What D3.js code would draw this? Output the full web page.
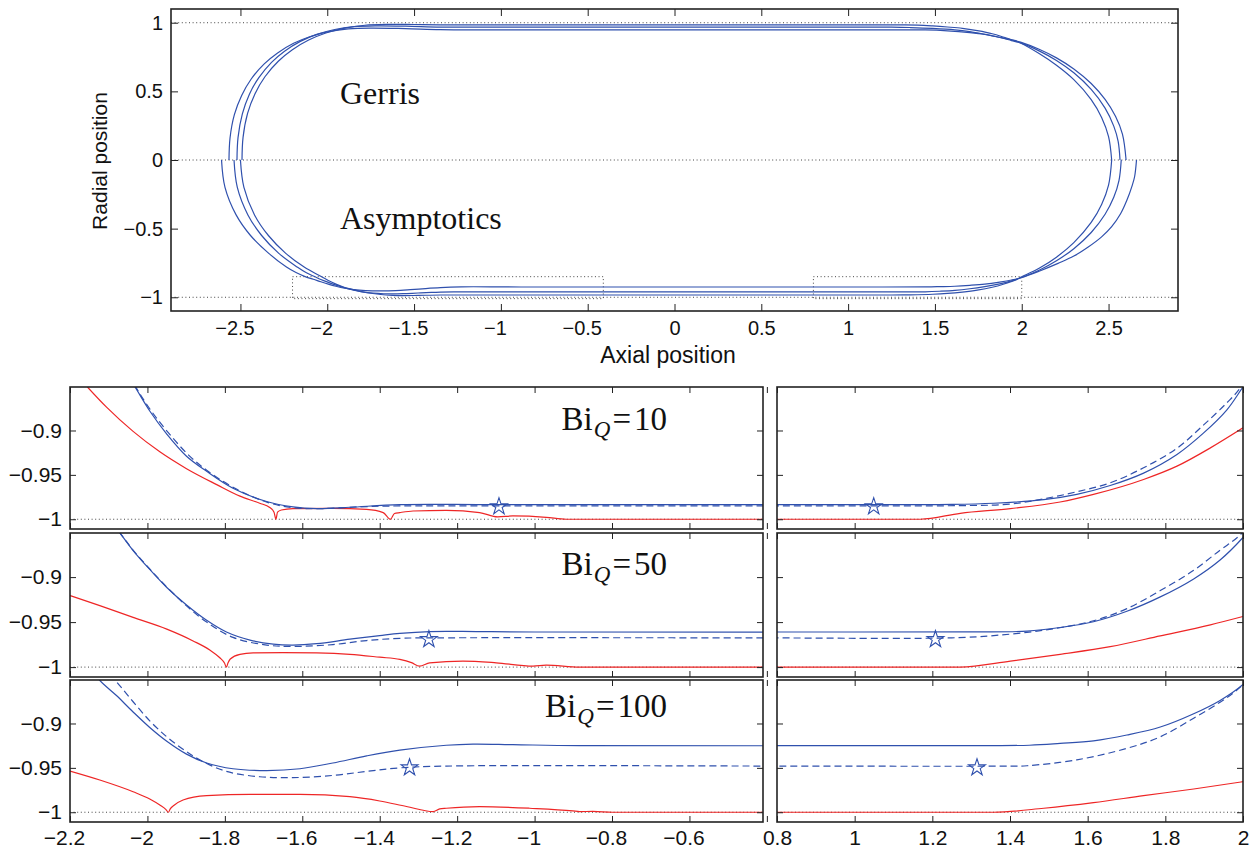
<!DOCTYPE html>
<html><head><meta charset="utf-8">
<script src="https://cdn.jsdelivr.net/npm/d3@7"></script>
<style>body{margin:0;background:#fff}svg{display:block}</style>
</head><body><svg id="c" width="1255" height="855"></svg>
<script>
// ---------------- data ----------------
const topXTicks = [-2.5,-2,-1.5,-1,-0.5,0,0.5,1,1.5,2,2.5];
const topXLabels = ["−2.5","−2","−1.5","−1","−0.5","0","0.5","1","1.5","2","2.5"];
const topYTicks = [-1,-0.5,0,0.5,1];
const topYLabels = ["−1","−0.5","0","0.5","1"];
const zoomYTicks = [-1,-0.95,-0.9];
const zoomYLabels = ["−1","−0.95","−0.9"];
const leftXTicks = [-2.2,-2,-1.8,-1.6,-1.4,-1.2,-1,-0.8,-0.6,-0.4];
const leftXLabels = ["−2.2","−2","−1.8","−1.6","−1.4","−1.2","−1","−0.8","−0.6",""];
const rightXTicks = [0.8,1,1.2,1.4,1.6,1.8,2];
const rightXLabels = ["0.8","1","1.2","1.4","1.6","1.8","2"];
const biValues = ["10","50","100"];
const refLines = [-1,0,1];
const zoomBoxesX = [[-2.2,-0.41],[0.8,2]];
const zoomBoxY = [-1.01,-0.85];

// Gerris interface, upper half of the overview
const gerrisTop10 = [[-2.491,0],[-2.485,0.1645],[-2.459,0.3393],[-2.416,0.4831],[-2.359,0.6066],[-2.282,0.7197],[-2.203,0.802],[-2.107,0.8739],[-2.008,0.9253],[-1.899,0.9613],[-1.783,0.9818],[-1.650,0.988],[-1.500,0.987],[-1.350,0.985],[-1.1,0.985],[0,0.985],[1.0,0.985],[1.3,0.9845],[1.40,0.983],[1.487,0.977],[1.572,0.969],[1.658,0.959],[1.744,0.942],[1.830,0.920],[1.898,0.894],[1.958,0.869],[1.993,0.852],[2.1,0.775],[2.2,0.69],[2.3,0.585],[2.4,0.44],[2.46,0.31],[2.5,0.17],[2.518,0]];
const gerrisTop50 = [[-2.520,0],[-2.514,0.163],[-2.489,0.3355],[-2.449,0.4778],[-2.394,0.600],[-2.321,0.7117],[-2.246,0.793],[-2.155,0.864],[-2.060,0.915],[-1.957,0.9506],[-1.846,0.9709],[-1.720,0.977],[-1.550,0.975],[-1.350,0.968],[-1.1,0.9675],[0,0.9675],[1.25,0.9675],[1.358,0.965],[1.487,0.959],[1.615,0.9485],[1.701,0.935],[1.787,0.915],[1.873,0.8925],[1.941,0.870],[1.993,0.853],[2.1,0.795],[2.2,0.725],[2.3,0.635],[2.4,0.514],[2.48,0.378],[2.53,0.247],[2.555,0.137],[2.566,0]];
const gerrisTop100 = [[-2.566,0],[-2.560,0.16],[-2.535,0.33],[-2.493,0.47],[-2.438,0.59],[-2.363,0.70],[-2.286,0.78],[-2.194,0.85],[-2.097,0.90],[-1.992,0.935],[-1.879,0.955],[-1.750,0.961],[-1.550,0.957],[-1.350,0.950],[-1.1,0.948],[0,0.948],[1.40,0.948],[1.444,0.9476],[1.572,0.941],[1.701,0.928],[1.787,0.915],[1.873,0.894],[1.941,0.876],[1.993,0.859],[2.1,0.807],[2.2,0.744],[2.3,0.663],[2.4,0.557],[2.48,0.441],[2.54,0.318],[2.58,0.188],[2.601,0]];

// asymptotic interface: lower half of the overview, solid lines in the zooms
const asym10 = [[-2.500,0],[-2.480,-0.20],[-2.419,-0.40],[-2.339,-0.55],[-2.239,-0.68],[-2.133,-0.78],[-2.032,-0.851],[-1.994,-0.878],[-1.950,-0.904],[-1.899,-0.929],[-1.847,-0.946],[-1.779,-0.965],[-1.692,-0.980],[-1.624,-0.986],[-1.563,-0.988],[-1.477,-0.9865],[-1.348,-0.9835],[-1.1,-0.9835],[0,-0.9835],[1.0,-0.9835],[1.25,-0.9833],[1.358,-0.982],[1.487,-0.978],[1.572,-0.972],[1.658,-0.962],[1.744,-0.948],[1.830,-0.927],[1.898,-0.903],[1.958,-0.877],[2.0,-0.851],[2.1,-0.789],[2.2,-0.708],[2.3,-0.602],[2.4,-0.455],[2.46,-0.324],[2.5,-0.183],[2.518,0]];
const asym50 = [[-2.537,0],[-2.518,-0.20],[-2.457,-0.40],[-2.378,-0.55],[-2.279,-0.68],[-2.173,-0.78],[-2.120,-0.822],[-2.071,-0.851],[-2.037,-0.8705],[-1.994,-0.8915],[-1.950,-0.9115],[-1.899,-0.931],[-1.847,-0.948],[-1.796,-0.961],[-1.735,-0.970],[-1.675,-0.9745],[-1.624,-0.9755],[-1.563,-0.974],[-1.477,-0.969],[-1.400,-0.965],[-1.348,-0.9625],[-1.271,-0.9605],[-1.15,-0.9605],[-1.0,-0.961],[0,-0.961],[1.0,-0.961],[1.30,-0.9608],[1.444,-0.960],[1.529,-0.956],[1.615,-0.9496],[1.701,-0.938],[1.787,-0.922],[1.873,-0.902],[1.941,-0.881],[2.0,-0.856],[2.1,-0.803],[2.2,-0.734],[2.3,-0.646],[2.4,-0.528],[2.48,-0.395],[2.53,-0.272],[2.56,-0.150],[2.573,0]];
const asym100 = [[-2.609,0],[-2.589,-0.20],[-2.525,-0.40],[-2.442,-0.55],[-2.337,-0.68],[-2.235,-0.78],[-2.180,-0.82],[-2.124,-0.851],[-2.080,-0.8685],[-2.037,-0.8870],[-1.994,-0.9045],[-1.950,-0.9200],[-1.899,-0.9345],[-1.847,-0.9445],[-1.779,-0.9510],[-1.692,-0.9530],[-1.606,-0.9510],[-1.521,-0.9445],[-1.434,-0.9365],[-1.348,-0.9300],[-1.228,-0.9245],[-1.159,-0.9232],[-1.056,-0.9238],[-0.884,-0.925],[0,-0.925],[1.2,-0.925],[1.45,-0.9245],[1.529,-0.9225],[1.615,-0.9196],[1.701,-0.913],[1.787,-0.904],[1.873,-0.889],[1.941,-0.874],[2.0,-0.856],[2.1,-0.81],[2.209,-0.753],[2.3,-0.70],[2.385,-0.632],[2.46,-0.56],[2.518,-0.486],[2.57,-0.39],[2.606,-0.292],[2.635,-0.19],[2.650,-0.122],[2.661,0]];

// dashed lines in the zooms
const dash10 = [[-2.120,-0.785],[-2.066,-0.82],[-2.030,-0.851],[-1.990,-0.878],[-1.945,-0.903],[-1.893,-0.928],[-1.840,-0.947],[-1.770,-0.966],[-1.690,-0.981],[-1.624,-0.987],[-1.550,-0.988],[-1.450,-0.986],[-1.350,-0.985],[-1.1,-0.985],[-0.3,-0.985],[0.7,-0.985],[1.0,-0.985],[1.3,-0.9845],[1.40,-0.983],[1.487,-0.977],[1.572,-0.969],[1.658,-0.959],[1.744,-0.942],[1.830,-0.920],[1.898,-0.894],[1.958,-0.869],[1.993,-0.852],[2.1,-0.775]];
const dash50 = [[-2.190,-0.78],[-2.133,-0.82],[-2.071,-0.851],[-2.037,-0.870],[-1.994,-0.891],[-1.950,-0.911],[-1.899,-0.932],[-1.847,-0.950],[-1.779,-0.967],[-1.692,-0.9755],[-1.624,-0.977],[-1.521,-0.975],[-1.434,-0.9705],[-1.348,-0.968],[-1.25,-0.9675],[-0.3,-0.9675],[0.7,-0.9675],[1.25,-0.9675],[1.358,-0.965],[1.487,-0.959],[1.615,-0.9485],[1.701,-0.935],[1.787,-0.915],[1.873,-0.8925],[1.941,-0.870],[1.993,-0.853],[2.1,-0.795]];
const dash100 = [[-2.230,-0.78],[-2.150,-0.82],[-2.084,-0.851],[-2.037,-0.8755],[-1.994,-0.8970],[-1.950,-0.9150],[-1.908,-0.9290],[-1.865,-0.9410],[-1.796,-0.9540],[-1.710,-0.9600],[-1.624,-0.9610],[-1.521,-0.9585],[-1.434,-0.9540],[-1.348,-0.9500],[-1.228,-0.948],[-0.3,-0.948],[0.7,-0.948],[1.40,-0.948],[1.444,-0.9476],[1.572,-0.941],[1.701,-0.928],[1.787,-0.915],[1.873,-0.894],[1.941,-0.876],[1.993,-0.859],[2.1,-0.807]];

// red curves in the zooms
const red10L = [[-2.155,-0.851],[-2.105,-0.874],[-2.037,-0.901],[-1.968,-0.924],[-1.899,-0.943],[-1.821,-0.961],[-1.761,-0.974],[-1.710,-0.982],[-1.684,-0.9868],[-1.673,-0.9920],[-1.668,-1.0],[-1.664,-0.9920],[-1.654,-0.9896],[-1.624,-0.988],[-1.521,-0.9877],[-1.434,-0.9888],[-1.391,-0.9925],[-1.372,-1.0],[-1.362,-0.9935],[-1.348,-0.9925],[-1.314,-0.9907],[-1.228,-0.990],[-1.142,-0.9925],[-1.095,-0.9974],[-1.056,-0.9963],[-0.970,-0.9978],[-0.918,-1.0],[-0.41,-1.0]];
const red10R = [[0.8,-1.0],[1.169,-1.0],[1.272,-0.9933],[1.401,-0.988],[1.529,-0.9806],[1.615,-0.972],[1.744,-0.9552],[1.830,-0.9402],[1.916,-0.9196],[2.0,-0.897]];
const red50L = [[-2.2,-0.9205],[-2.123,-0.9317],[-2.037,-0.9448],[-1.950,-0.9578],[-1.882,-0.9709],[-1.839,-0.981],[-1.813,-0.9896],[-1.801,-0.9955],[-1.796,-1.0],[-1.792,-0.9955],[-1.786,-0.9910],[-1.761,-0.9858],[-1.727,-0.9843],[-1.650,-0.984],[-1.563,-0.9843],[-1.477,-0.9858],[-1.400,-0.9890],[-1.348,-0.9914],[-1.318,-0.9950],[-1.297,-0.9989],[-1.271,-0.9952],[-1.185,-0.9933],[-1.099,-0.9952],[-1.004,-0.9989],[-0.970,-0.9978],[-0.884,-1.0],[-0.41,-1.0]];
const red50R = [[0.8,-1.0],[1.272,-1.0],[1.401,-0.9933],[1.529,-0.9858],[1.658,-0.9773],[1.787,-0.9653],[1.916,-0.953],[2.0,-0.9437]];
const red100L = [[-2.2,-0.9536],[-2.123,-0.9637],[-2.037,-0.9769],[-1.994,-0.985],[-1.968,-0.9918],[-1.952,-0.9970],[-1.946,-1.0],[-1.941,-0.9962],[-1.932,-0.9925],[-1.908,-0.9862],[-1.847,-0.9813],[-1.735,-0.9798],[-1.606,-0.9798],[-1.477,-0.9825],[-1.400,-0.9873],[-1.331,-0.9935],[-1.262,-0.9993],[-1.245,-0.9962],[-1.228,-0.9955],[-1.142,-0.9937],[-1.013,-0.9955],[-0.901,-0.9985],[-0.884,-0.9993],[-0.85,-0.9990],[-0.798,-1.0],[-0.41,-1.0]];
const red100R = [[0.8,-1.0],[1.358,-1.0],[1.487,-0.9955],[1.615,-0.9892],[1.744,-0.9813],[1.873,-0.9738],[2.0,-0.9656]];

// star markers (left panel, right panel)
const stars10 = [[-1.092,-0.984],[1.049,-0.984]];
const stars50 = [[-1.273,-0.9675],[1.208,-0.9675]];
const stars100 = [[-1.323,-0.948],[1.315,-0.948]];

// ---------------- drawing ----------------
const BLUE = "#2f50ad", RED = "#ee2626", INK = "#222";
const SANS = "'Liberation Sans', Arial, sans-serif";
const SERIF = "'Liberation Serif', 'Times New Roman', serif";
const svg = d3.select("#c");
svg.append("rect").attr("width",1255).attr("height",855).attr("fill","#fff");

const sets = [
  {bi: biValues[0], top: gerrisTop10, asym: asym10, dash: dash10, redL: red10L, redR: red10R, stars: stars10},
  {bi: biValues[1], top: gerrisTop50, asym: asym50, dash: dash50, redL: red50L, redR: red50R, stars: stars50},
  {bi: biValues[2], top: gerrisTop100, asym: asym100, dash: dash100, redL: red100L, redR: red100R, stars: stars100}
];

function drawAxes(g, x, y, o) {
  const [y0, y1] = y.range(); // bottom, top
  const [x0, x1] = x.range();
  const bx = d3.axisBottom(x).tickValues(o.xt).tickSizeInner(-o.tl).tickSizeOuter(0).tickPadding(o.xpad)
    .tickFormat((d,i) => o.xl ? o.xl[i] : "");
  const tx = d3.axisTop(x).tickValues(o.xt).tickSizeInner(-o.tl).tickSizeOuter(0).tickFormat(() => "");
  const ly = d3.axisLeft(y).tickValues(o.yt).tickSizeInner(-o.tl).tickSizeOuter(0).tickPadding(o.ypad)
    .tickFormat((d,i) => o.yl ? o.yl[i] : "");
  const ry = d3.axisRight(y).tickValues(o.yt).tickSizeInner(-o.tl).tickSizeOuter(0).tickFormat(() => "");
  const gb = g.append("g").attr("transform", `translate(0,${y0})`).call(bx);
  g.append("g").attr("transform", `translate(0,${y1})`).call(tx);
  g.append("g").attr("transform", `translate(${x0},0)`).call(ly);
  g.append("g").attr("transform", `translate(${x1},0)`).call(ry);
  g.selectAll(".domain").remove();
  g.selectAll(".tick line").attr("stroke", INK).attr("stroke-width", 1);
  g.selectAll(".tick text").attr("fill", "#111").style("font-family", SANS).style("font-size", o.fs + "px");
  gb.selectAll(".tick text").attr("dx", function(){ return this.textContent.startsWith("−") ? -6 : 0; });
  g.append("rect").attr("x", x0).attr("y", y1).attr("width", x1 - x0).attr("height", y0 - y1)
    .attr("fill", "none").attr("stroke", INK).attr("stroke-width", 1.6);
}

// ---- overview ----
const tX = d3.scaleLinear().domain([-2.9, 2.9]).range([171, 1178]);
const tY = d3.scaleLinear().domain([-1.1, 1.1]).range([311, 9]);
const gTop = svg.append("g");
gTop.selectAll("line.ref").data(refLines).join("line")
  .attr("x1", tX.range()[0]).attr("x2", tX.range()[1])
  .attr("y1", d => tY(d)).attr("y2", d => tY(d))
  .attr("stroke", "#444").attr("stroke-width", 1).attr("stroke-dasharray", "1,2.6");
gTop.selectAll("rect.zoombox").data(zoomBoxesX).join("rect")
  .attr("x", d => tX(d[0])).attr("width", d => tX(d[1]) - tX(d[0]))
  .attr("y", tY(zoomBoxY[1])).attr("height", tY(zoomBoxY[0]) - tY(zoomBoxY[1]))
  .attr("fill", "none").attr("stroke", "#444").attr("stroke-width", 1).attr("stroke-dasharray", "1,2.6");

const lineTop = d3.line().x(d => tX(d[0])).y(d => tY(d[1])).curve(d3.curveCatmullRom.alpha(0.5));
sets.forEach(s => {
  gTop.append("path").attr("d", lineTop(s.top)).attr("fill","none").attr("stroke",BLUE).attr("stroke-width",1.2);
  gTop.append("path").attr("d", lineTop(s.asym)).attr("fill","none").attr("stroke",BLUE).attr("stroke-width",1.2);
});
drawAxes(gTop, tX, tY, {xt: topXTicks, xl: topXLabels, yt: topYTicks, yl: topYLabels, tl: 7, xpad: 10, ypad: 8, fs: 20});
gTop.append("text").attr("x", 340).attr("y", 104).text("Gerris")
  .style("font-family", SERIF).style("font-size", "32px").attr("fill", "#111");
gTop.append("text").attr("x", 340).attr("y", 229).text("Asymptotics")
  .style("font-family", SERIF).style("font-size", "32px").attr("fill", "#111");
gTop.append("text").attr("x", 668).attr("y", 363).attr("text-anchor", "middle").text("Axial position")
  .style("font-family", SANS).style("font-size", "23px").attr("fill", "#111");
gTop.append("text").attr("transform", "translate(107,161) rotate(-90)").attr("text-anchor", "middle").text("Radial position")
  .style("font-family", SANS).style("font-size", "21px").attr("fill", "#111");

// ---- zoom panels ----
const rows = [{top: 387, bottom: 529, base: 430}, {top: 533, bottom: 677, base: 575}, {top: 680, bottom: 822, base: 717}];
const xL = d3.scaleLinear().domain([-2.2, -0.41]).range([70, 763]);
const xR = d3.scaleLinear().domain([0.8, 2]).range([777, 1243]);
const star = d3.symbol().type(d3.symbolStar).size(88);

rows.forEach((row, i) => {
  const s = sets[i];
  const y = d3.scaleLinear().domain([-1.011, -0.851]).range([row.bottom, row.top]);
  [{x: xL, side: 0}, {x: xR, side: 1}].forEach(p => {
    const g = svg.append("g");
    const cid = `clip${i}_${p.side}`;
    g.append("clipPath").attr("id", cid).append("rect")
      .attr("x", p.x.range()[0]).attr("y", row.top).attr("width", p.x.range()[1] - p.x.range()[0]).attr("height", row.bottom - row.top);
    const pg = g.append("g").attr("clip-path", `url(#${cid})`);
    pg.append("line").attr("x1", p.x.range()[0]).attr("x2", p.x.range()[1]).attr("y1", y(-1)).attr("y2", y(-1))
      .attr("stroke", "#444").attr("stroke-width", 1).attr("stroke-dasharray", "1,2.6");
    const lc = d3.line().x(d => p.x(d[0])).y(d => y(d[1])).curve(d3.curveCatmullRom.alpha(0.5));
    const lr = d3.line().x(d => p.x(d[0])).y(d => y(d[1])).curve(d3.curveMonotoneX);
    pg.append("path").attr("d", lr(p.side ? s.redR : s.redL)).attr("fill","none").attr("stroke",RED).attr("stroke-width",1.2);
    pg.append("path").attr("d", lc(s.asym)).attr("fill","none").attr("stroke",BLUE).attr("stroke-width",1.2);
    pg.append("path").attr("d", lc(s.dash)).attr("fill","none").attr("stroke",BLUE).attr("stroke-width",1.2).attr("stroke-dasharray","7,4");
    const st = s.stars[p.side];
    pg.append("path").attr("d", star()).attr("transform", `translate(${p.x(st[0])},${y(st[1]) + 1.5})`)
      .attr("fill", "none").attr("stroke", BLUE).attr("stroke-width", 1.1);
    const last = i === rows.length - 1;
    drawAxes(g, p.x, y, {
      xt: p.side ? rightXTicks : leftXTicks,
      xl: last ? (p.side ? rightXLabels : leftXLabels) : null,
      yt: zoomYTicks, yl: p.side ? null : zoomYLabels, tl: 6, xpad: 8, ypad: 8, fs: 21
    });
    if (!p.side) {
      const t = g.append("text").attr("x", 667).attr("y", row.base).attr("text-anchor", "end")
        .style("font-family", SERIF).style("font-size", "33px").attr("fill", "#111");
      t.append("tspan").text("Bi");
      t.append("tspan").attr("dy", 7).attr("dx", 1).style("font-style", "italic").style("font-size", "23px").text("Q");
      t.append("tspan").attr("dy", -7).attr("dx", 2).text("=");
      t.append("tspan").attr("dx", 3).text(s.bi);
    }
  });
});
</script>
</body></html>
